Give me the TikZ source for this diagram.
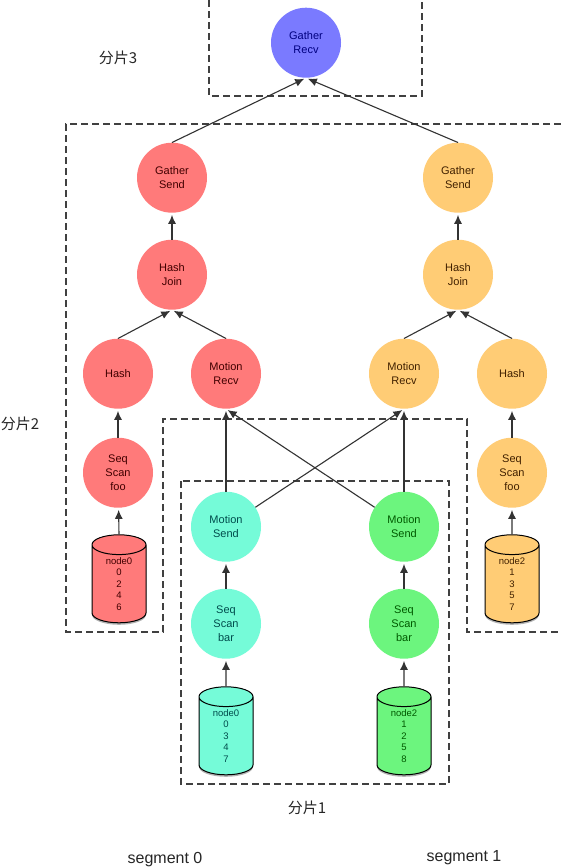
\documentclass[tikz,border=0pt]{standalone}
\usepackage{fontspec}
\setmainfont{Liberation Sans}
\newfontfamily\cjk{Noto Sans CJK SC}
\usetikzlibrary{shapes.geometric,arrows.meta,shadows}
\definecolor{cred}{HTML}{FF7A7A}
\definecolor{cblue}{HTML}{7A7AFF}
\definecolor{corange}{HTML}{FFCC75}
\definecolor{ccyan}{HTML}{75FBD8}
\definecolor{cgreen}{HTML}{6CF57E}
\tikzset{
  circ/.style={circle,minimum size=70pt,inner sep=0pt,align=center,yshift=-0.7pt,font=\fontsize{11}{14}\selectfont},
  redc/.style={circ,fill=cred,text=red!25!black},
  bluec/.style={circ,fill=cblue,text=blue!50!black},
  orac/.style={circ,fill=corange,text=orange!25!black},
  cyac/.style={circ,fill=ccyan,text=teal!60!black},
  grec/.style={circ,fill=cgreen,text=green!35!black},
  cyl/.style={cylinder,shape border rotate=90,aspect=0.75,draw=black,line width=1pt,minimum width=54pt,minimum height=88pt,inner sep=0pt,align=center,font=\fontsize{9.5}{11.5}\selectfont,drop shadow={shadow xshift=0pt,shadow yshift=-2pt,fill=black,opacity=0.3}},
  arr/.style={-{Latex[length=9pt,width=8pt]},line width=1.1pt,draw=black!80,shorten >=2pt},
  dsh/.style={dashed,dash pattern=on 7pt off 4pt,line width=1.1pt,draw=black!75},
  lab/.style={inner sep=0pt,font=\fontsize{16}{18}\selectfont,text=black!85},
  cjklab/.style={lab,font=\cjk\fontsize{15}{17}\selectfont},
}
\begin{document}
\begin{tikzpicture}[x=1pt,y=-1pt]
\useasboundingbox (0,0) rectangle (561,868);
\fill[white] (0,0) rectangle (561,868);
% regions
\draw[dsh] (209,0) -- (209,96) -- (422,96) -- (422,0);
\draw[dsh] (561,124) -- (66,124) -- (66,632) -- (163,632) -- (163,419) -- (467,419) -- (467,632) -- (561,632);
\draw[dsh] (181,481) rectangle (449,784);
% nodes
\node[bluec] (gr) at (306,42) {Gather\\Recv};
\node[redc] (gs0) at (172,177) {Gather\\Send};
\node[redc] (hj0) at (172,274) {Hash\\Join};
\node[redc] (h0) at (118,373) {Hash};
\node[redc] (mr0) at (226,373) {Motion\\Recv};
\node[redc] (ss0) at (118,472) {Seq\\Scan\\foo};
\node[orac] (gs1) at (458,177) {Gather\\Send};
\node[orac] (hj1) at (458,274) {Hash\\Join};
\node[orac] (h1) at (512,373) {Hash};
\node[orac] (mr1) at (404,373) {Motion\\Recv};
\node[orac] (ss1) at (512,472) {Seq\\Scan\\foo};
\node[cyac] (ms0) at (226,526) {Motion\\Send};
\node[cyac] (sb0) at (226,623) {Seq\\Scan\\bar};
\node[grec] (ms1) at (404,526) {Motion\\Send};
\node[grec] (sb1) at (404,623) {Seq\\Scan\\bar};
\node[cyl,fill=cred,text=red!25!black] (c0) at (119,584) {node0\\0\\2\\4\\6};
\node[cyl,fill=corange,text=orange!25!black] (c1) at (512,584) {node2\\1\\3\\5\\7};
\node[cyl,fill=ccyan,text=teal!60!black] (c2) at (226,736) {node0\\0\\3\\4\\7};
\node[cyl,fill=cgreen,text=green!35!black] (c3) at (404,736) {node2\\1\\2\\5\\8};
% connectors
\draw[arr] (gs0.north) -- (gr.south);
\draw[arr] (gs1.north) -- (gr.south);
\draw[arr] (hj0) -- (gs0);
\draw[arr] (hj1) -- (gs1);
\draw[arr] (h0.north) -- (hj0.south);
\draw[arr] (mr0.north) -- (hj0.south);
\draw[arr] (mr1.north) -- (hj1.south);
\draw[arr] (h1.north) -- (hj1.south);
\draw[arr] (ss0) -- (h0);
\draw[arr] (ss1) -- (h1);
\draw[arr] (c0.north) -- (ss0);
\draw[arr] (c1.north) -- (ss1);
\draw[arr] (ms0) -- (mr0);
\draw[arr] (ms1) -- (mr1);
\draw[arr] (ms0) -- (mr1.south);
\draw[arr] (ms1) -- (mr0.south);
\draw[arr] (sb0) -- (ms0);
\draw[arr] (sb1) -- (ms1);
\draw[arr] (c2.north) -- (sb0);
\draw[arr] (c3.north) -- (sb1);
% labels
\node[cjklab] (l3) at (118,58) {分片3};
\node[cjklab] (l2) at (20,424) {分片2};
\node[cjklab] (l1) at (307,808) {分片1};
\node[lab] (s0) at (165,860) {segment 0};
\node[lab] (s1) at (464,858) {segment 1};
\end{tikzpicture}
\end{document}
